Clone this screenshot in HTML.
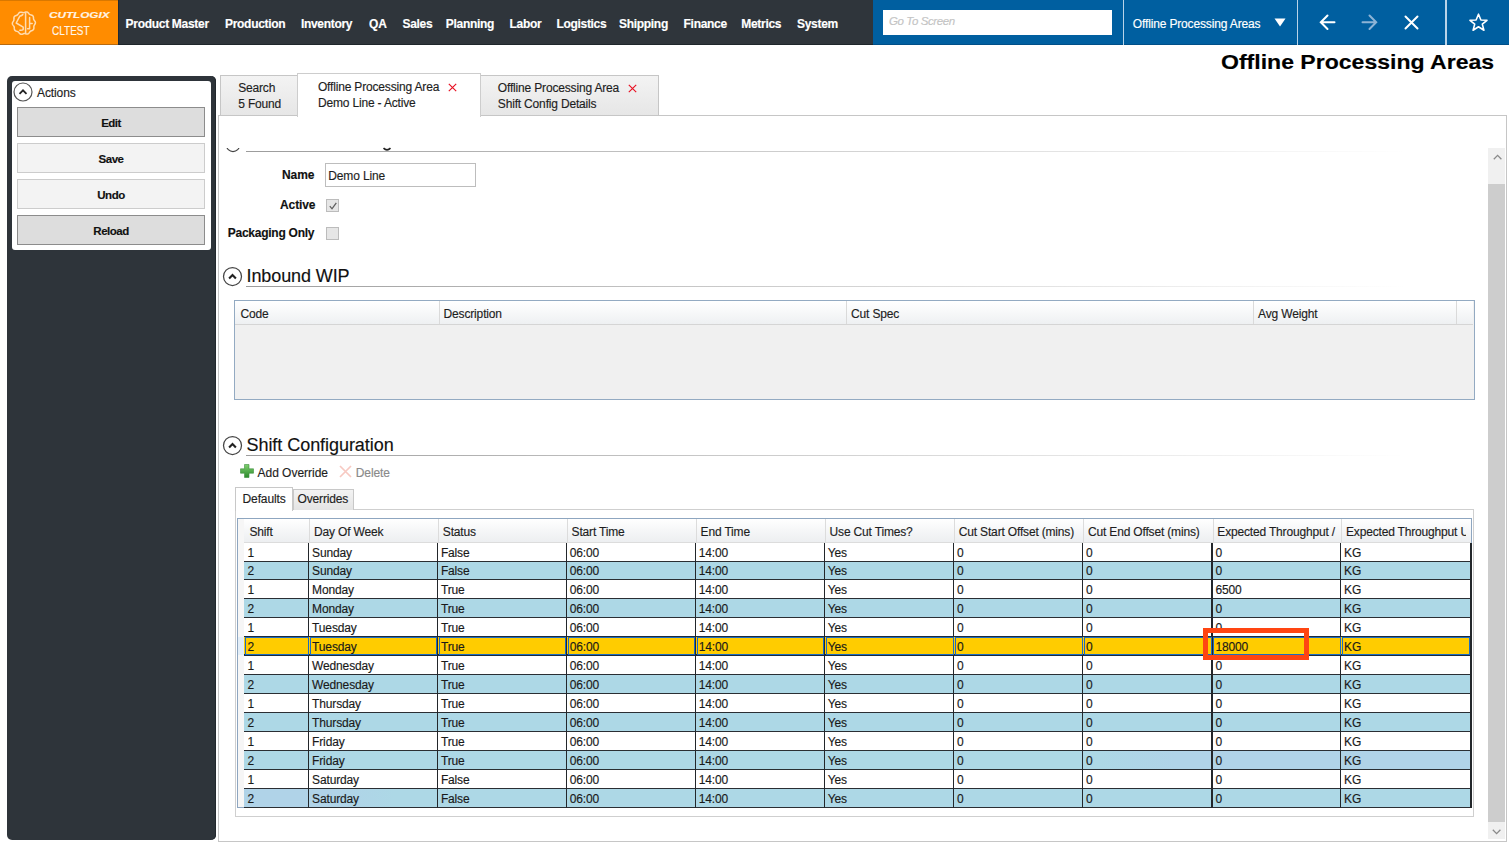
<!DOCTYPE html>
<html><head><meta charset="utf-8"><style>
html,body{margin:0;padding:0;}
body{width:1509px;height:845px;overflow:hidden;position:relative;background:#fff;font-family:"Liberation Sans", sans-serif;}
.t{position:absolute;white-space:nowrap;font-family:"Liberation Sans", sans-serif;-webkit-text-stroke:0.15px currentColor;}
</style></head><body>
<div style="position:absolute;left:0px;top:0px;width:118px;height:45px;background:#ff8c00;"></div>
<div style="position:absolute;left:0px;top:0px;width:118px;height:1px;background:#d97800;"></div>
<div style="position:absolute;left:118px;top:0px;width:755px;height:45px;background:#2f353b;"></div>
<div style="position:absolute;left:873px;top:0px;width:636px;height:45px;background:#005fa0;"></div>
<div style="position:absolute;left:873px;top:44px;width:636px;height:1px;background:#004f88;"></div>
<div style="position:absolute;left:0px;top:44px;width:118px;height:1px;background:#b86a10;"></div>
<div style="position:absolute;left:118px;top:44px;width:755px;height:1px;background:#1f262b;"></div>
<div style="position:absolute;left:118px;top:0px;width:1px;height:45px;background:#1c2a38;"></div>
<div style="position:absolute;left:883px;top:10px;width:229px;height:25px;background:#fff;"></div>
<div class="t" style="left:889px;top:16.27px;font-size:11.5px;line-height:11.5px;font-weight:normal;color:#c4c4c4;letter-spacing:-0.4px;font-style:italic;">Go To Screen</div>
<div style="position:absolute;left:1123px;top:0px;width:1px;height:45px;background:#b9d3e8;"></div>
<div style="position:absolute;left:1297px;top:0px;width:1px;height:45px;background:#b9d3e8;"></div>
<div style="position:absolute;left:1445px;top:0px;width:2px;height:45px;background:#b9d3e8;"></div>
<svg style="position:absolute;left:8px;top:6px" width="32" height="34" viewBox="0 0 32 34" fill="none" stroke="#ffdcb0" stroke-width="1.5" stroke-linecap="round" stroke-linejoin="round">
<path d="M27.41 17.10 L27.22 17.69 L26.91 18.26 L26.55 18.79 L26.23 19.30 L26.00 19.81 L25.88 20.34 L25.86 20.92 L25.89 21.55 L25.89 22.19 L25.81 22.82 L25.58 23.39 L25.21 23.86 L24.71 24.23 L24.12 24.51 L23.53 24.73 L22.97 24.95 L22.48 25.22 L22.07 25.59 L21.71 26.05 L21.37 26.57 L20.99 27.09 L20.55 27.55 L20.04 27.88 L19.46 28.04 L18.83 28.05 L18.20 27.93 L17.59 27.75 L17.00 27.60 L16.45 27.54 L15.90 27.59 L15.34 27.75 L14.76 27.97 L14.15 28.18 L13.52 28.29 L12.91 28.25 L12.34 28.04 L11.84 27.68 L11.40 27.21 L11.00 26.71 L10.62 26.25 L10.21 25.87 L9.73 25.59 L9.19 25.39 L8.58 25.22 L7.97 25.03 L7.40 24.75 L6.93 24.37 L6.59 23.86 L6.40 23.27 L6.31 22.63 L6.29 22.00 L6.25 21.40 L6.14 20.85 L5.92 20.34 L5.60 19.86 L5.21 19.37 L4.82 18.85 L4.52 18.30 L4.37 17.70 L4.39 17.10 L4.58 16.51 L4.89 15.94 L5.25 15.41 L5.57 14.90 L5.80 14.39 L5.92 13.86 L5.94 13.28 L5.91 12.65 L5.91 12.01 L5.99 11.38 L6.22 10.81 L6.59 10.34 L7.09 9.97 L7.68 9.69 L8.27 9.47 L8.83 9.25 L9.32 8.98 L9.73 8.61 L10.09 8.15 L10.43 7.63 L10.81 7.11 L11.25 6.65 L11.76 6.32 L12.34 6.16 L12.97 6.15 L13.60 6.27 L14.21 6.45 L14.80 6.60 L15.35 6.66 L15.90 6.61 L16.46 6.45 L17.04 6.23 L17.65 6.02 L18.28 5.91 L18.89 5.95 L19.46 6.16 L19.96 6.52 L20.40 6.99 L20.80 7.49 L21.18 7.95 L21.59 8.33 L22.07 8.61 L22.61 8.81 L23.22 8.98 L23.83 9.17 L24.40 9.45 L24.87 9.83 L25.21 10.34 L25.40 10.93 L25.49 11.57 L25.51 12.20 L25.55 12.80 L25.66 13.35 L25.88 13.86 L26.20 14.34 L26.59 14.83 L26.98 15.35 L27.28 15.90 L27.43 16.50 L27.41 17.10 Z"/>
<path d="M17.6 7 V27"/>
<path d="M11.8 10.2 Q14 9.4 14.8 8.6 M11.8 10.2 L8.2 17 L15.2 21.2 V23.6 Q14 24.4 11.8 24.2"/>
<path d="M21.6 11.6 V22.8 H19.6 M21.6 17.6 H24.2"/>
</svg>
<div class="t" style="left:49px;top:10.78px;font-size:9px;line-height:9px;font-weight:bold;color:#fff3e3;letter-spacing:0px;font-style:italic;transform:scaleX(1.3);transform-origin:0 0;">CUTLOGIX</div>
<div class="t" style="left:52.3px;top:24.72px;font-size:12.5px;line-height:12.5px;font-weight:normal;color:#fff6ea;letter-spacing:0px;transform:scaleX(0.8);transform-origin:0 0;">CLTEST</div>
<div class="t" style="left:125.6px;top:17.74px;font-size:12px;line-height:12px;font-weight:bold;color:#ffffff;letter-spacing:-0.3px;">Product Master</div>
<div class="t" style="left:225px;top:17.74px;font-size:12px;line-height:12px;font-weight:bold;color:#ffffff;letter-spacing:-0.3px;">Production</div>
<div class="t" style="left:300.9px;top:17.74px;font-size:12px;line-height:12px;font-weight:bold;color:#ffffff;letter-spacing:-0.3px;">Inventory</div>
<div class="t" style="left:369.1px;top:17.74px;font-size:12px;line-height:12px;font-weight:bold;color:#ffffff;letter-spacing:-0.3px;">QA</div>
<div class="t" style="left:402.5px;top:17.74px;font-size:12px;line-height:12px;font-weight:bold;color:#ffffff;letter-spacing:-0.3px;">Sales</div>
<div class="t" style="left:445.8px;top:17.74px;font-size:12px;line-height:12px;font-weight:bold;color:#ffffff;letter-spacing:-0.3px;">Planning</div>
<div class="t" style="left:509.5px;top:17.74px;font-size:12px;line-height:12px;font-weight:bold;color:#ffffff;letter-spacing:-0.3px;">Labor</div>
<div class="t" style="left:556.4px;top:17.74px;font-size:12px;line-height:12px;font-weight:bold;color:#ffffff;letter-spacing:-0.3px;">Logistics</div>
<div class="t" style="left:619px;top:17.74px;font-size:12px;line-height:12px;font-weight:bold;color:#ffffff;letter-spacing:-0.3px;">Shipping</div>
<div class="t" style="left:683.6px;top:17.74px;font-size:12px;line-height:12px;font-weight:bold;color:#ffffff;letter-spacing:-0.3px;">Finance</div>
<div class="t" style="left:741.3px;top:17.74px;font-size:12px;line-height:12px;font-weight:bold;color:#ffffff;letter-spacing:-0.3px;">Metrics</div>
<div class="t" style="left:797px;top:17.74px;font-size:12px;line-height:12px;font-weight:bold;color:#ffffff;letter-spacing:-0.3px;">System</div>
<div class="t" style="left:1132.8px;top:17.84px;font-size:12px;line-height:12px;font-weight:normal;color:#ffffff;letter-spacing:-0.15px;">Offline Processing Areas</div>
<svg style="position:absolute;left:1274px;top:18px" width="12" height="9"><path d="M0.5 0.5 H11.5 L6 8.5 Z" fill="#fff"/></svg>
<svg style="position:absolute;left:1318px;top:13px" width="20" height="19" fill="none" stroke="#fff" stroke-width="2" stroke-linecap="round"><path d="M16.5 9.2 H3 M9.5 2.5 L2.8 9.2 L9.5 16"/></svg>
<svg style="position:absolute;left:1360px;top:13px" width="20" height="19" fill="none" stroke="#8db4d6" stroke-width="2" stroke-linecap="round"><path d="M2.5 9.2 H16 M9.5 2.5 L16.2 9.2 L9.5 16"/></svg>
<svg style="position:absolute;left:1403px;top:14px" width="17" height="17" fill="none" stroke="#fff" stroke-width="2" stroke-linecap="round"><path d="M2.5 2.5 L14.5 14.5 M14.5 2.5 L2.5 14.5"/></svg>
<svg style="position:absolute;left:1468px;top:12px" width="21" height="21" fill="none" stroke="#fff" stroke-width="1.6" stroke-linejoin="round"><path d="M10.5 2.2 L12.9 8 L19 8.3 L14.3 12.1 L15.9 18.2 L10.5 14.8 L5.1 18.2 L6.7 12.1 L2 8.3 L8.1 8 Z"/></svg>
<div class="t" style="left:1221px;top:52.27px;font-size:20px;line-height:20px;font-weight:bold;color:#000;letter-spacing:0px;transform:scaleX(1.152);transform-origin:0 0;">Offline Processing Areas</div>
<div style="position:absolute;left:7px;top:76px;width:209px;height:764px;background:#2e343a;border-radius:5px;box-shadow:inset -1px 0 0 #22282d;"></div>
<div style="position:absolute;left:12px;top:81px;width:199px;height:169px;background:#fff;border-radius:3px;"></div>
<svg style="position:absolute;left:13px;top:82px" width="20" height="20" fill="none"><circle cx="10" cy="10" r="9" stroke="#555" stroke-width="1.2"/><path d="M6.5 11.8 L10 8.3 L13.5 11.8" stroke="#222" stroke-width="1.8"/></svg>
<div class="t" style="left:37px;top:87.44px;font-size:12px;line-height:12px;font-weight:normal;color:#1e1e1e;letter-spacing:-0.1px;">Actions</div>
<div style="position:absolute;left:17px;top:107px;width:186px;height:28px;background:#dddddd;border:1px solid #8c8c8c;"></div>
<div class="t" style="left:-39px;width:300px;text-align:center;top:117.57px;font-size:11.5px;line-height:11.5px;font-weight:bold;color:#111;letter-spacing:-0.5px;">Edit</div>
<div style="position:absolute;left:17px;top:143px;width:186px;height:28px;background:#f3f3f3;border:1px solid #cccccc;"></div>
<div class="t" style="left:-39px;width:300px;text-align:center;top:153.57px;font-size:11.5px;line-height:11.5px;font-weight:bold;color:#111;letter-spacing:-0.5px;">Save</div>
<div style="position:absolute;left:17px;top:179px;width:186px;height:28px;background:#f3f3f3;border:1px solid #cccccc;"></div>
<div class="t" style="left:-39px;width:300px;text-align:center;top:189.57px;font-size:11.5px;line-height:11.5px;font-weight:bold;color:#111;letter-spacing:-0.5px;">Undo</div>
<div style="position:absolute;left:17px;top:215px;width:186px;height:28px;background:#dddddd;border:1px solid #8c8c8c;"></div>
<div class="t" style="left:-39px;width:300px;text-align:center;top:225.57px;font-size:11.5px;line-height:11.5px;font-weight:bold;color:#111;letter-spacing:-0.5px;">Reload</div>
<div style="position:absolute;left:220px;top:75px;width:77px;height:40px;background:linear-gradient(#f3f3f3,#e6e6e6);border:1px solid #c6c6c6;border-bottom:none;"></div>
<div style="position:absolute;left:480px;top:75px;width:177px;height:40px;background:linear-gradient(#f3f3f3,#e6e6e6);border:1px solid #c6c6c6;border-bottom:none;"></div>
<div style="position:absolute;left:218px;top:115px;width:1287px;height:725px;background:#fff;border:1px solid #c6c6c6;"></div>
<div style="position:absolute;left:297px;top:73px;width:182px;height:43px;background:#fff;border:1px solid #cdcdcd;border-bottom:none;"></div>
<div class="t" style="left:238.3px;top:82.04px;font-size:12px;line-height:12px;font-weight:normal;color:#1e1e1e;letter-spacing:-0.2px;">Search</div>
<div class="t" style="left:238.3px;top:98.14px;font-size:12px;line-height:12px;font-weight:normal;color:#1e1e1e;letter-spacing:-0.2px;">5 Found</div>
<div class="t" style="left:317.9px;top:81.14px;font-size:12px;line-height:12px;font-weight:normal;color:#1e1e1e;letter-spacing:-0.17px;">Offline Processing Area</div>
<div class="t" style="left:317.9px;top:96.84px;font-size:12px;line-height:12px;font-weight:normal;color:#1e1e1e;letter-spacing:-0.17px;">Demo Line - Active</div>
<div class="t" style="left:497.8px;top:82.14px;font-size:12px;line-height:12px;font-weight:normal;color:#1e1e1e;letter-spacing:-0.17px;">Offline Processing Area</div>
<div class="t" style="left:497.8px;top:97.64px;font-size:12px;line-height:12px;font-weight:normal;color:#1e1e1e;letter-spacing:-0.17px;">Shift Config Details</div>
<svg style="position:absolute;left:448px;top:83px" width="9" height="9" fill="none" stroke="#e81123" stroke-width="1.15"><path d="M0.8 0.8 L8.2 8.2 M8.2 0.8 L0.8 8.2"/></svg>
<svg style="position:absolute;left:627.8px;top:84px" width="9" height="9" fill="none" stroke="#e81123" stroke-width="1.15"><path d="M0.8 0.8 L8.2 8.2 M8.2 0.8 L0.8 8.2"/></svg>
<div style="position:absolute;left:1488px;top:148px;width:16.5px;height:691px;background:#f0f0f0;"></div>
<div style="position:absolute;left:1488px;top:184px;width:16.5px;height:638px;background:#cdcdcd;"></div>
<svg style="position:absolute;left:1491.5px;top:153px" width="11" height="8" fill="none" stroke="#8a8a8a" stroke-width="1.3"><path d="M1.8 6.2 L5.6 2.4 L9.4 6.2"/></svg>
<svg style="position:absolute;left:1491px;top:828px" width="11" height="8" fill="none" stroke="#8a8a8a" stroke-width="1.3"><path d="M1.8 1.8 L5.6 5.6 L9.4 1.8"/></svg>
<div style="position:absolute;left:219px;top:148px;width:1268px;height:8px;overflow:hidden;"><svg style="position:absolute;left:6px;top:-11px" width="16" height="16" fill="none"><circle cx="8" cy="8" r="6.6" stroke="#444" stroke-width="1.2"/></svg></div>
<div style="position:absolute;left:219px;top:140px;width:1268px;height:8px;background:#fff;"></div>
<div style="position:absolute;left:246px;top:150.5px;width:1160px;height:1.5px;background:linear-gradient(90deg,#9c9c9c,#c8c8c8 40%,#e8e8e8 75%,rgba(255,255,255,0) 100%);"></div>
<svg style="position:absolute;left:382px;top:146px" width="10" height="6" fill="none"><path d="M1.5 2.2 Q5 5.5 8.5 2.2" stroke="#222" stroke-width="1.6"/></svg>
<div class="t" style="left:282px;top:169.44px;font-size:12px;line-height:12px;font-weight:bold;color:#111;letter-spacing:-0.1px;">Name</div>
<div style="position:absolute;left:325px;top:163px;width:149px;height:22px;background:#fff;border:1px solid #bdbdbd;"></div>
<div class="t" style="left:328.3px;top:170.04px;font-size:12px;line-height:12px;font-weight:normal;color:#1e1e1e;letter-spacing:-0.15px;">Demo Line</div>
<div class="t" style="left:280px;top:199.24px;font-size:12px;line-height:12px;font-weight:bold;color:#111;letter-spacing:-0.1px;">Active</div>
<div style="position:absolute;left:326px;top:199px;width:11px;height:11px;background:#e6e6e6;border:1px solid #bcbcbc;"></div>
<svg style="position:absolute;left:326.5px;top:199.5px" width="12" height="12" fill="none"><path d="M2.8 6.2 L5 8.8 L9.3 2.8" stroke="#606060" stroke-width="1.3"/></svg>
<div class="t" style="left:227.8px;top:227.24px;font-size:12px;line-height:12px;font-weight:bold;color:#111;letter-spacing:-0.26px;">Packaging Only</div>
<div style="position:absolute;left:326px;top:227px;width:11px;height:11px;background:#e6e6e6;border:1px solid #bcbcbc;"></div>
<svg style="position:absolute;left:222.0px;top:266.0px" width="21" height="21" fill="none"><circle cx="10.5" cy="10.5" r="9.0" stroke="#444" stroke-width="1.25"/><path d="M7.1 12.4 L10.5 9.0 L13.9 12.4" stroke="#222" stroke-width="2.1"/></svg>
<div class="t" style="left:246.5px;top:266.56px;font-size:18px;line-height:18px;font-weight:normal;color:#111;letter-spacing:-0.1px;">Inbound WIP</div>
<div style="position:absolute;left:246px;top:286px;width:1160px;height:1px;background:linear-gradient(90deg,#9c9c9c,#c8c8c8 40%,#e8e8e8 75%,rgba(255,255,255,0) 100%);"></div>
<div style="position:absolute;left:234px;top:300px;width:1239px;height:98px;background:#f0f0f0;border:1px solid #93aac2;"></div>
<div style="position:absolute;left:235px;top:301px;width:1238px;height:23px;background:linear-gradient(#ffffff,#f7f8f9 50%,#eef0f2);border-bottom:1px solid #d5d5d5;"></div>
<div style="position:absolute;left:438.5px;top:301px;width:1px;height:23px;background:#dadada;"></div>
<div style="position:absolute;left:845.5px;top:301px;width:1px;height:23px;background:#dadada;"></div>
<div style="position:absolute;left:1252.5px;top:301px;width:1px;height:23px;background:#dadada;"></div>
<div style="position:absolute;left:1455.5px;top:301px;width:1px;height:23px;background:#dadada;"></div>
<div class="t" style="left:240.4px;top:307.84px;font-size:12px;line-height:12px;font-weight:normal;color:#1e1e1e;letter-spacing:-0.15px;">Code</div>
<div class="t" style="left:443.5px;top:307.84px;font-size:12px;line-height:12px;font-weight:normal;color:#1e1e1e;letter-spacing:-0.15px;">Description</div>
<div class="t" style="left:851px;top:307.84px;font-size:12px;line-height:12px;font-weight:normal;color:#1e1e1e;letter-spacing:-0.15px;">Cut Spec</div>
<div class="t" style="left:1258px;top:307.84px;font-size:12px;line-height:12px;font-weight:normal;color:#1e1e1e;letter-spacing:-0.15px;">Avg Weight</div>
<svg style="position:absolute;left:222.0px;top:434.8px" width="21" height="21" fill="none"><circle cx="10.5" cy="10.5" r="9.0" stroke="#444" stroke-width="1.25"/><path d="M7.1 12.4 L10.5 9.0 L13.9 12.4" stroke="#222" stroke-width="2.1"/></svg>
<div class="t" style="left:246.5px;top:435.96px;font-size:18px;line-height:18px;font-weight:normal;color:#111;letter-spacing:-0.05px;">Shift Configuration</div>
<div style="position:absolute;left:246px;top:455px;width:1160px;height:1px;background:linear-gradient(90deg,#9c9c9c,#c8c8c8 40%,#e8e8e8 75%,rgba(255,255,255,0) 100%);"></div>
<svg style="position:absolute;left:240px;top:464px" width="14" height="14"><defs><linearGradient id="g1" x1="0" y1="0" x2="0" y2="1"><stop offset="0" stop-color="#7fcf6f"/><stop offset="1" stop-color="#2b8a2b"/></linearGradient></defs><path d="M4.5 0.5 H9 V4.8 H13.5 V9.2 H9 V13.5 H4.5 V9.2 H0.5 V4.8 H4.5 Z" fill="url(#g1)" stroke="#3d8f3d" stroke-width="0.6"/></svg>
<div class="t" style="left:257.5px;top:466.54px;font-size:12px;line-height:12px;font-weight:normal;color:#1e1e1e;letter-spacing:-0.02px;">Add Override</div>
<svg style="position:absolute;left:338.5px;top:465px" width="13" height="13" fill="none" stroke="#f7c9c2" stroke-width="1.7"><path d="M1 1 L12 12 M12 1 L1 12"/></svg>
<div class="t" style="left:355.8px;top:466.54px;font-size:12px;line-height:12px;font-weight:normal;color:#8a8a8a;letter-spacing:-0.1px;">Delete</div>
<div style="position:absolute;left:235px;top:509px;width:1237px;height:306px;background:#fff;border:1px solid #cfcfcf;"></div>
<div style="position:absolute;left:292.5px;top:489px;width:59px;height:20px;background:linear-gradient(#f3f3f3,#e4e4e4);border:1px solid #c8c8c8;border-bottom:none;"></div>
<div style="position:absolute;left:234.5px;top:487px;width:56px;height:23px;background:#fff;border:1px solid #c8c8c8;border-bottom:none;"></div>
<div class="t" style="left:242.5px;top:492.54px;font-size:12px;line-height:12px;font-weight:normal;color:#1e1e1e;letter-spacing:-0.1px;">Defaults</div>
<div class="t" style="left:297.5px;top:493.34px;font-size:12px;line-height:12px;font-weight:normal;color:#1e1e1e;letter-spacing:-0.15px;">Overrides</div>
<div style="position:absolute;left:237px;top:518px;width:1233px;height:288px;background:#fff;border:1px solid #8ea6c0;"></div>
<div style="position:absolute;left:238px;top:519px;width:1233px;height:24px;background:linear-gradient(#ffffff,#f6f7f8 45%,#eceef0);"></div>
<div style="position:absolute;left:238px;top:542px;width:1233px;height:1px;background:#dcdcdc;"></div>
<div style="position:absolute;left:238px;top:519px;width:6px;height:288px;background:#f6f6f6;"></div>
<div style="position:absolute;left:238px;top:637px;width:6px;height:18px;background:#e3eef8;"></div>
<div style="position:absolute;left:309.2px;top:519px;width:1px;height:23px;background:#dcdcdc;"></div>
<div style="position:absolute;left:438px;top:519px;width:1px;height:23px;background:#dcdcdc;"></div>
<div style="position:absolute;left:566.8px;top:519px;width:1px;height:23px;background:#dcdcdc;"></div>
<div style="position:absolute;left:695.8px;top:519px;width:1px;height:23px;background:#dcdcdc;"></div>
<div style="position:absolute;left:824.8px;top:519px;width:1px;height:23px;background:#dcdcdc;"></div>
<div style="position:absolute;left:954px;top:519px;width:1px;height:23px;background:#dcdcdc;"></div>
<div style="position:absolute;left:1083.2px;top:519px;width:1px;height:23px;background:#dcdcdc;"></div>
<div style="position:absolute;left:1212.5px;top:519px;width:1px;height:23px;background:#dcdcdc;"></div>
<div style="position:absolute;left:1341.2px;top:519px;width:1px;height:23px;background:#dcdcdc;"></div>
<div style="position:absolute;left:244.6px;top:519px;width:60.599999999999994px;height:23px;overflow:hidden;">
<div class="t" style="left:4.8px;top:6.94px;font-size:12px;line-height:12px;color:#1e1e1e;letter-spacing:-0.17px;">Shift</div></div>
<div style="position:absolute;left:309.2px;top:519px;width:124.80000000000001px;height:23px;overflow:hidden;">
<div class="t" style="left:4.8px;top:6.94px;font-size:12px;line-height:12px;color:#1e1e1e;letter-spacing:-0.17px;">Day Of Week</div></div>
<div style="position:absolute;left:438px;top:519px;width:124.79999999999995px;height:23px;overflow:hidden;">
<div class="t" style="left:4.8px;top:6.94px;font-size:12px;line-height:12px;color:#1e1e1e;letter-spacing:-0.17px;">Status</div></div>
<div style="position:absolute;left:566.8px;top:519px;width:125.0px;height:23px;overflow:hidden;">
<div class="t" style="left:4.8px;top:6.94px;font-size:12px;line-height:12px;color:#1e1e1e;letter-spacing:-0.17px;">Start Time</div></div>
<div style="position:absolute;left:695.8px;top:519px;width:125.0px;height:23px;overflow:hidden;">
<div class="t" style="left:4.8px;top:6.94px;font-size:12px;line-height:12px;color:#1e1e1e;letter-spacing:-0.17px;">End Time</div></div>
<div style="position:absolute;left:824.8px;top:519px;width:125.20000000000005px;height:23px;overflow:hidden;">
<div class="t" style="left:4.8px;top:6.94px;font-size:12px;line-height:12px;color:#1e1e1e;letter-spacing:-0.17px;">Use Cut Times?</div></div>
<div style="position:absolute;left:954px;top:519px;width:125.20000000000005px;height:23px;overflow:hidden;">
<div class="t" style="left:4.8px;top:6.94px;font-size:12px;line-height:12px;color:#1e1e1e;letter-spacing:-0.17px;">Cut Start Offset (mins)</div></div>
<div style="position:absolute;left:1083.2px;top:519px;width:125.29999999999995px;height:23px;overflow:hidden;">
<div class="t" style="left:4.8px;top:6.94px;font-size:12px;line-height:12px;color:#1e1e1e;letter-spacing:-0.17px;">Cut End Offset (mins)</div></div>
<div style="position:absolute;left:1212.5px;top:519px;width:124.70000000000005px;height:23px;overflow:hidden;">
<div class="t" style="left:4.8px;top:6.94px;font-size:12px;line-height:12px;color:#1e1e1e;letter-spacing:-0.17px;">Expected Throughput / Shift</div></div>
<div style="position:absolute;left:1341.2px;top:519px;width:125.29999999999995px;height:23px;overflow:hidden;">
<div class="t" style="left:4.8px;top:6.94px;font-size:12px;line-height:12px;color:#1e1e1e;letter-spacing:-0.17px;">Expected Throughput Unit</div></div>
<div style="position:absolute;left:244px;top:543px;width:1227px;height:18px;background:#ffffff;"></div>
<div class="t" style="left:247.4px;top:547.34px;font-size:12px;line-height:12px;font-weight:normal;color:#1a1a1a;letter-spacing:-0.15px;">1</div>
<div class="t" style="left:312.09999999999997px;top:547.34px;font-size:12px;line-height:12px;font-weight:normal;color:#1a1a1a;letter-spacing:-0.15px;">Sunday</div>
<div class="t" style="left:440.9px;top:547.34px;font-size:12px;line-height:12px;font-weight:normal;color:#1a1a1a;letter-spacing:-0.15px;">False</div>
<div class="t" style="left:569.6999999999999px;top:547.34px;font-size:12px;line-height:12px;font-weight:normal;color:#1a1a1a;letter-spacing:-0.15px;">06:00</div>
<div class="t" style="left:698.6999999999999px;top:547.34px;font-size:12px;line-height:12px;font-weight:normal;color:#1a1a1a;letter-spacing:-0.15px;">14:00</div>
<div class="t" style="left:827.6999999999999px;top:547.34px;font-size:12px;line-height:12px;font-weight:normal;color:#1a1a1a;letter-spacing:-0.15px;">Yes</div>
<div class="t" style="left:956.9px;top:547.34px;font-size:12px;line-height:12px;font-weight:normal;color:#1a1a1a;letter-spacing:-0.15px;">0</div>
<div class="t" style="left:1086.1000000000001px;top:547.34px;font-size:12px;line-height:12px;font-weight:normal;color:#1a1a1a;letter-spacing:-0.15px;">0</div>
<div class="t" style="left:1215.4px;top:547.34px;font-size:12px;line-height:12px;font-weight:normal;color:#1a1a1a;letter-spacing:-0.15px;">0</div>
<div class="t" style="left:1344.1000000000001px;top:547.34px;font-size:12px;line-height:12px;font-weight:normal;color:#1a1a1a;letter-spacing:-0.15px;">KG</div>
<div style="position:absolute;left:244px;top:561px;width:1227px;height:18px;background:#add8e6;"></div>
<div class="t" style="left:247.4px;top:565.34px;font-size:12px;line-height:12px;font-weight:normal;color:#1a1a1a;letter-spacing:-0.15px;">2</div>
<div class="t" style="left:312.09999999999997px;top:565.34px;font-size:12px;line-height:12px;font-weight:normal;color:#1a1a1a;letter-spacing:-0.15px;">Sunday</div>
<div class="t" style="left:440.9px;top:565.34px;font-size:12px;line-height:12px;font-weight:normal;color:#1a1a1a;letter-spacing:-0.15px;">False</div>
<div class="t" style="left:569.6999999999999px;top:565.34px;font-size:12px;line-height:12px;font-weight:normal;color:#1a1a1a;letter-spacing:-0.15px;">06:00</div>
<div class="t" style="left:698.6999999999999px;top:565.34px;font-size:12px;line-height:12px;font-weight:normal;color:#1a1a1a;letter-spacing:-0.15px;">14:00</div>
<div class="t" style="left:827.6999999999999px;top:565.34px;font-size:12px;line-height:12px;font-weight:normal;color:#1a1a1a;letter-spacing:-0.15px;">Yes</div>
<div class="t" style="left:956.9px;top:565.34px;font-size:12px;line-height:12px;font-weight:normal;color:#1a1a1a;letter-spacing:-0.15px;">0</div>
<div class="t" style="left:1086.1000000000001px;top:565.34px;font-size:12px;line-height:12px;font-weight:normal;color:#1a1a1a;letter-spacing:-0.15px;">0</div>
<div class="t" style="left:1215.4px;top:565.34px;font-size:12px;line-height:12px;font-weight:normal;color:#1a1a1a;letter-spacing:-0.15px;">0</div>
<div class="t" style="left:1344.1000000000001px;top:565.34px;font-size:12px;line-height:12px;font-weight:normal;color:#1a1a1a;letter-spacing:-0.15px;">KG</div>
<div style="position:absolute;left:244px;top:579px;width:1227px;height:19px;background:#ffffff;"></div>
<div class="t" style="left:247.4px;top:584.34px;font-size:12px;line-height:12px;font-weight:normal;color:#1a1a1a;letter-spacing:-0.15px;">1</div>
<div class="t" style="left:312.09999999999997px;top:584.34px;font-size:12px;line-height:12px;font-weight:normal;color:#1a1a1a;letter-spacing:-0.15px;">Monday</div>
<div class="t" style="left:440.9px;top:584.34px;font-size:12px;line-height:12px;font-weight:normal;color:#1a1a1a;letter-spacing:-0.15px;">True</div>
<div class="t" style="left:569.6999999999999px;top:584.34px;font-size:12px;line-height:12px;font-weight:normal;color:#1a1a1a;letter-spacing:-0.15px;">06:00</div>
<div class="t" style="left:698.6999999999999px;top:584.34px;font-size:12px;line-height:12px;font-weight:normal;color:#1a1a1a;letter-spacing:-0.15px;">14:00</div>
<div class="t" style="left:827.6999999999999px;top:584.34px;font-size:12px;line-height:12px;font-weight:normal;color:#1a1a1a;letter-spacing:-0.15px;">Yes</div>
<div class="t" style="left:956.9px;top:584.34px;font-size:12px;line-height:12px;font-weight:normal;color:#1a1a1a;letter-spacing:-0.15px;">0</div>
<div class="t" style="left:1086.1000000000001px;top:584.34px;font-size:12px;line-height:12px;font-weight:normal;color:#1a1a1a;letter-spacing:-0.15px;">0</div>
<div class="t" style="left:1215.4px;top:584.34px;font-size:12px;line-height:12px;font-weight:normal;color:#1a1a1a;letter-spacing:-0.15px;">6500</div>
<div class="t" style="left:1344.1000000000001px;top:584.34px;font-size:12px;line-height:12px;font-weight:normal;color:#1a1a1a;letter-spacing:-0.15px;">KG</div>
<div style="position:absolute;left:244px;top:598px;width:1227px;height:19px;background:#add8e6;"></div>
<div class="t" style="left:247.4px;top:603.34px;font-size:12px;line-height:12px;font-weight:normal;color:#1a1a1a;letter-spacing:-0.15px;">2</div>
<div class="t" style="left:312.09999999999997px;top:603.34px;font-size:12px;line-height:12px;font-weight:normal;color:#1a1a1a;letter-spacing:-0.15px;">Monday</div>
<div class="t" style="left:440.9px;top:603.34px;font-size:12px;line-height:12px;font-weight:normal;color:#1a1a1a;letter-spacing:-0.15px;">True</div>
<div class="t" style="left:569.6999999999999px;top:603.34px;font-size:12px;line-height:12px;font-weight:normal;color:#1a1a1a;letter-spacing:-0.15px;">06:00</div>
<div class="t" style="left:698.6999999999999px;top:603.34px;font-size:12px;line-height:12px;font-weight:normal;color:#1a1a1a;letter-spacing:-0.15px;">14:00</div>
<div class="t" style="left:827.6999999999999px;top:603.34px;font-size:12px;line-height:12px;font-weight:normal;color:#1a1a1a;letter-spacing:-0.15px;">Yes</div>
<div class="t" style="left:956.9px;top:603.34px;font-size:12px;line-height:12px;font-weight:normal;color:#1a1a1a;letter-spacing:-0.15px;">0</div>
<div class="t" style="left:1086.1000000000001px;top:603.34px;font-size:12px;line-height:12px;font-weight:normal;color:#1a1a1a;letter-spacing:-0.15px;">0</div>
<div class="t" style="left:1215.4px;top:603.34px;font-size:12px;line-height:12px;font-weight:normal;color:#1a1a1a;letter-spacing:-0.15px;">0</div>
<div class="t" style="left:1344.1000000000001px;top:603.34px;font-size:12px;line-height:12px;font-weight:normal;color:#1a1a1a;letter-spacing:-0.15px;">KG</div>
<div style="position:absolute;left:244px;top:617px;width:1227px;height:19px;background:#ffffff;"></div>
<div class="t" style="left:247.4px;top:622.34px;font-size:12px;line-height:12px;font-weight:normal;color:#1a1a1a;letter-spacing:-0.15px;">1</div>
<div class="t" style="left:312.09999999999997px;top:622.34px;font-size:12px;line-height:12px;font-weight:normal;color:#1a1a1a;letter-spacing:-0.15px;">Tuesday</div>
<div class="t" style="left:440.9px;top:622.34px;font-size:12px;line-height:12px;font-weight:normal;color:#1a1a1a;letter-spacing:-0.15px;">True</div>
<div class="t" style="left:569.6999999999999px;top:622.34px;font-size:12px;line-height:12px;font-weight:normal;color:#1a1a1a;letter-spacing:-0.15px;">06:00</div>
<div class="t" style="left:698.6999999999999px;top:622.34px;font-size:12px;line-height:12px;font-weight:normal;color:#1a1a1a;letter-spacing:-0.15px;">14:00</div>
<div class="t" style="left:827.6999999999999px;top:622.34px;font-size:12px;line-height:12px;font-weight:normal;color:#1a1a1a;letter-spacing:-0.15px;">Yes</div>
<div class="t" style="left:956.9px;top:622.34px;font-size:12px;line-height:12px;font-weight:normal;color:#1a1a1a;letter-spacing:-0.15px;">0</div>
<div class="t" style="left:1086.1000000000001px;top:622.34px;font-size:12px;line-height:12px;font-weight:normal;color:#1a1a1a;letter-spacing:-0.15px;">0</div>
<div class="t" style="left:1215.4px;top:622.34px;font-size:12px;line-height:12px;font-weight:normal;color:#1a1a1a;letter-spacing:-0.15px;">0</div>
<div class="t" style="left:1344.1000000000001px;top:622.34px;font-size:12px;line-height:12px;font-weight:normal;color:#1a1a1a;letter-spacing:-0.15px;">KG</div>
<div style="position:absolute;left:244px;top:636px;width:1227px;height:18.600000000000023px;background:#ffcc00;"></div>
<div class="t" style="left:247.4px;top:640.94px;font-size:12px;line-height:12px;font-weight:normal;color:#1a1a1a;letter-spacing:-0.15px;">2</div>
<div class="t" style="left:312.09999999999997px;top:640.94px;font-size:12px;line-height:12px;font-weight:normal;color:#1a1a1a;letter-spacing:-0.15px;">Tuesday</div>
<div class="t" style="left:440.9px;top:640.94px;font-size:12px;line-height:12px;font-weight:normal;color:#1a1a1a;letter-spacing:-0.15px;">True</div>
<div class="t" style="left:569.6999999999999px;top:640.94px;font-size:12px;line-height:12px;font-weight:normal;color:#1a1a1a;letter-spacing:-0.15px;">06:00</div>
<div class="t" style="left:698.6999999999999px;top:640.94px;font-size:12px;line-height:12px;font-weight:normal;color:#1a1a1a;letter-spacing:-0.15px;">14:00</div>
<div class="t" style="left:827.6999999999999px;top:640.94px;font-size:12px;line-height:12px;font-weight:normal;color:#1a1a1a;letter-spacing:-0.15px;">Yes</div>
<div class="t" style="left:956.9px;top:640.94px;font-size:12px;line-height:12px;font-weight:normal;color:#1a1a1a;letter-spacing:-0.15px;">0</div>
<div class="t" style="left:1086.1000000000001px;top:640.94px;font-size:12px;line-height:12px;font-weight:normal;color:#1a1a1a;letter-spacing:-0.15px;">0</div>
<div class="t" style="left:1215.4px;top:640.94px;font-size:12px;line-height:12px;font-weight:normal;color:#1a1a1a;letter-spacing:-0.15px;">18000</div>
<div class="t" style="left:1344.1000000000001px;top:640.94px;font-size:12px;line-height:12px;font-weight:normal;color:#1a1a1a;letter-spacing:-0.15px;">KG</div>
<div style="position:absolute;left:244px;top:654.6px;width:1227px;height:19.399999999999977px;background:#ffffff;"></div>
<div class="t" style="left:247.4px;top:660.34px;font-size:12px;line-height:12px;font-weight:normal;color:#1a1a1a;letter-spacing:-0.15px;">1</div>
<div class="t" style="left:312.09999999999997px;top:660.34px;font-size:12px;line-height:12px;font-weight:normal;color:#1a1a1a;letter-spacing:-0.15px;">Wednesday</div>
<div class="t" style="left:440.9px;top:660.34px;font-size:12px;line-height:12px;font-weight:normal;color:#1a1a1a;letter-spacing:-0.15px;">True</div>
<div class="t" style="left:569.6999999999999px;top:660.34px;font-size:12px;line-height:12px;font-weight:normal;color:#1a1a1a;letter-spacing:-0.15px;">06:00</div>
<div class="t" style="left:698.6999999999999px;top:660.34px;font-size:12px;line-height:12px;font-weight:normal;color:#1a1a1a;letter-spacing:-0.15px;">14:00</div>
<div class="t" style="left:827.6999999999999px;top:660.34px;font-size:12px;line-height:12px;font-weight:normal;color:#1a1a1a;letter-spacing:-0.15px;">Yes</div>
<div class="t" style="left:956.9px;top:660.34px;font-size:12px;line-height:12px;font-weight:normal;color:#1a1a1a;letter-spacing:-0.15px;">0</div>
<div class="t" style="left:1086.1000000000001px;top:660.34px;font-size:12px;line-height:12px;font-weight:normal;color:#1a1a1a;letter-spacing:-0.15px;">0</div>
<div class="t" style="left:1215.4px;top:660.34px;font-size:12px;line-height:12px;font-weight:normal;color:#1a1a1a;letter-spacing:-0.15px;">0</div>
<div class="t" style="left:1344.1000000000001px;top:660.34px;font-size:12px;line-height:12px;font-weight:normal;color:#1a1a1a;letter-spacing:-0.15px;">KG</div>
<div style="position:absolute;left:244px;top:674px;width:1227px;height:19px;background:#add8e6;"></div>
<div class="t" style="left:247.4px;top:679.34px;font-size:12px;line-height:12px;font-weight:normal;color:#1a1a1a;letter-spacing:-0.15px;">2</div>
<div class="t" style="left:312.09999999999997px;top:679.34px;font-size:12px;line-height:12px;font-weight:normal;color:#1a1a1a;letter-spacing:-0.15px;">Wednesday</div>
<div class="t" style="left:440.9px;top:679.34px;font-size:12px;line-height:12px;font-weight:normal;color:#1a1a1a;letter-spacing:-0.15px;">True</div>
<div class="t" style="left:569.6999999999999px;top:679.34px;font-size:12px;line-height:12px;font-weight:normal;color:#1a1a1a;letter-spacing:-0.15px;">06:00</div>
<div class="t" style="left:698.6999999999999px;top:679.34px;font-size:12px;line-height:12px;font-weight:normal;color:#1a1a1a;letter-spacing:-0.15px;">14:00</div>
<div class="t" style="left:827.6999999999999px;top:679.34px;font-size:12px;line-height:12px;font-weight:normal;color:#1a1a1a;letter-spacing:-0.15px;">Yes</div>
<div class="t" style="left:956.9px;top:679.34px;font-size:12px;line-height:12px;font-weight:normal;color:#1a1a1a;letter-spacing:-0.15px;">0</div>
<div class="t" style="left:1086.1000000000001px;top:679.34px;font-size:12px;line-height:12px;font-weight:normal;color:#1a1a1a;letter-spacing:-0.15px;">0</div>
<div class="t" style="left:1215.4px;top:679.34px;font-size:12px;line-height:12px;font-weight:normal;color:#1a1a1a;letter-spacing:-0.15px;">0</div>
<div class="t" style="left:1344.1000000000001px;top:679.34px;font-size:12px;line-height:12px;font-weight:normal;color:#1a1a1a;letter-spacing:-0.15px;">KG</div>
<div style="position:absolute;left:244px;top:693px;width:1227px;height:19px;background:#ffffff;"></div>
<div class="t" style="left:247.4px;top:698.34px;font-size:12px;line-height:12px;font-weight:normal;color:#1a1a1a;letter-spacing:-0.15px;">1</div>
<div class="t" style="left:312.09999999999997px;top:698.34px;font-size:12px;line-height:12px;font-weight:normal;color:#1a1a1a;letter-spacing:-0.15px;">Thursday</div>
<div class="t" style="left:440.9px;top:698.34px;font-size:12px;line-height:12px;font-weight:normal;color:#1a1a1a;letter-spacing:-0.15px;">True</div>
<div class="t" style="left:569.6999999999999px;top:698.34px;font-size:12px;line-height:12px;font-weight:normal;color:#1a1a1a;letter-spacing:-0.15px;">06:00</div>
<div class="t" style="left:698.6999999999999px;top:698.34px;font-size:12px;line-height:12px;font-weight:normal;color:#1a1a1a;letter-spacing:-0.15px;">14:00</div>
<div class="t" style="left:827.6999999999999px;top:698.34px;font-size:12px;line-height:12px;font-weight:normal;color:#1a1a1a;letter-spacing:-0.15px;">Yes</div>
<div class="t" style="left:956.9px;top:698.34px;font-size:12px;line-height:12px;font-weight:normal;color:#1a1a1a;letter-spacing:-0.15px;">0</div>
<div class="t" style="left:1086.1000000000001px;top:698.34px;font-size:12px;line-height:12px;font-weight:normal;color:#1a1a1a;letter-spacing:-0.15px;">0</div>
<div class="t" style="left:1215.4px;top:698.34px;font-size:12px;line-height:12px;font-weight:normal;color:#1a1a1a;letter-spacing:-0.15px;">0</div>
<div class="t" style="left:1344.1000000000001px;top:698.34px;font-size:12px;line-height:12px;font-weight:normal;color:#1a1a1a;letter-spacing:-0.15px;">KG</div>
<div style="position:absolute;left:244px;top:712px;width:1227px;height:19px;background:#add8e6;"></div>
<div class="t" style="left:247.4px;top:717.34px;font-size:12px;line-height:12px;font-weight:normal;color:#1a1a1a;letter-spacing:-0.15px;">2</div>
<div class="t" style="left:312.09999999999997px;top:717.34px;font-size:12px;line-height:12px;font-weight:normal;color:#1a1a1a;letter-spacing:-0.15px;">Thursday</div>
<div class="t" style="left:440.9px;top:717.34px;font-size:12px;line-height:12px;font-weight:normal;color:#1a1a1a;letter-spacing:-0.15px;">True</div>
<div class="t" style="left:569.6999999999999px;top:717.34px;font-size:12px;line-height:12px;font-weight:normal;color:#1a1a1a;letter-spacing:-0.15px;">06:00</div>
<div class="t" style="left:698.6999999999999px;top:717.34px;font-size:12px;line-height:12px;font-weight:normal;color:#1a1a1a;letter-spacing:-0.15px;">14:00</div>
<div class="t" style="left:827.6999999999999px;top:717.34px;font-size:12px;line-height:12px;font-weight:normal;color:#1a1a1a;letter-spacing:-0.15px;">Yes</div>
<div class="t" style="left:956.9px;top:717.34px;font-size:12px;line-height:12px;font-weight:normal;color:#1a1a1a;letter-spacing:-0.15px;">0</div>
<div class="t" style="left:1086.1000000000001px;top:717.34px;font-size:12px;line-height:12px;font-weight:normal;color:#1a1a1a;letter-spacing:-0.15px;">0</div>
<div class="t" style="left:1215.4px;top:717.34px;font-size:12px;line-height:12px;font-weight:normal;color:#1a1a1a;letter-spacing:-0.15px;">0</div>
<div class="t" style="left:1344.1000000000001px;top:717.34px;font-size:12px;line-height:12px;font-weight:normal;color:#1a1a1a;letter-spacing:-0.15px;">KG</div>
<div style="position:absolute;left:244px;top:731px;width:1227px;height:19px;background:#ffffff;"></div>
<div class="t" style="left:247.4px;top:736.34px;font-size:12px;line-height:12px;font-weight:normal;color:#1a1a1a;letter-spacing:-0.15px;">1</div>
<div class="t" style="left:312.09999999999997px;top:736.34px;font-size:12px;line-height:12px;font-weight:normal;color:#1a1a1a;letter-spacing:-0.15px;">Friday</div>
<div class="t" style="left:440.9px;top:736.34px;font-size:12px;line-height:12px;font-weight:normal;color:#1a1a1a;letter-spacing:-0.15px;">True</div>
<div class="t" style="left:569.6999999999999px;top:736.34px;font-size:12px;line-height:12px;font-weight:normal;color:#1a1a1a;letter-spacing:-0.15px;">06:00</div>
<div class="t" style="left:698.6999999999999px;top:736.34px;font-size:12px;line-height:12px;font-weight:normal;color:#1a1a1a;letter-spacing:-0.15px;">14:00</div>
<div class="t" style="left:827.6999999999999px;top:736.34px;font-size:12px;line-height:12px;font-weight:normal;color:#1a1a1a;letter-spacing:-0.15px;">Yes</div>
<div class="t" style="left:956.9px;top:736.34px;font-size:12px;line-height:12px;font-weight:normal;color:#1a1a1a;letter-spacing:-0.15px;">0</div>
<div class="t" style="left:1086.1000000000001px;top:736.34px;font-size:12px;line-height:12px;font-weight:normal;color:#1a1a1a;letter-spacing:-0.15px;">0</div>
<div class="t" style="left:1215.4px;top:736.34px;font-size:12px;line-height:12px;font-weight:normal;color:#1a1a1a;letter-spacing:-0.15px;">0</div>
<div class="t" style="left:1344.1000000000001px;top:736.34px;font-size:12px;line-height:12px;font-weight:normal;color:#1a1a1a;letter-spacing:-0.15px;">KG</div>
<div style="position:absolute;left:244px;top:750px;width:1227px;height:19px;background:#add8e6;"></div>
<div style="position:absolute;left:1100px;top:750px;width:371px;height:19px;background:linear-gradient(90deg,#add8e6,#b0d3e8 20%);"></div>
<div class="t" style="left:247.4px;top:755.34px;font-size:12px;line-height:12px;font-weight:normal;color:#1a1a1a;letter-spacing:-0.15px;">2</div>
<div class="t" style="left:312.09999999999997px;top:755.34px;font-size:12px;line-height:12px;font-weight:normal;color:#1a1a1a;letter-spacing:-0.15px;">Friday</div>
<div class="t" style="left:440.9px;top:755.34px;font-size:12px;line-height:12px;font-weight:normal;color:#1a1a1a;letter-spacing:-0.15px;">True</div>
<div class="t" style="left:569.6999999999999px;top:755.34px;font-size:12px;line-height:12px;font-weight:normal;color:#1a1a1a;letter-spacing:-0.15px;">06:00</div>
<div class="t" style="left:698.6999999999999px;top:755.34px;font-size:12px;line-height:12px;font-weight:normal;color:#1a1a1a;letter-spacing:-0.15px;">14:00</div>
<div class="t" style="left:827.6999999999999px;top:755.34px;font-size:12px;line-height:12px;font-weight:normal;color:#1a1a1a;letter-spacing:-0.15px;">Yes</div>
<div class="t" style="left:956.9px;top:755.34px;font-size:12px;line-height:12px;font-weight:normal;color:#1a1a1a;letter-spacing:-0.15px;">0</div>
<div class="t" style="left:1086.1000000000001px;top:755.34px;font-size:12px;line-height:12px;font-weight:normal;color:#1a1a1a;letter-spacing:-0.15px;">0</div>
<div class="t" style="left:1215.4px;top:755.34px;font-size:12px;line-height:12px;font-weight:normal;color:#1a1a1a;letter-spacing:-0.15px;">0</div>
<div class="t" style="left:1344.1000000000001px;top:755.34px;font-size:12px;line-height:12px;font-weight:normal;color:#1a1a1a;letter-spacing:-0.15px;">KG</div>
<div style="position:absolute;left:244px;top:769px;width:1227px;height:19px;background:#ffffff;"></div>
<div class="t" style="left:247.4px;top:774.34px;font-size:12px;line-height:12px;font-weight:normal;color:#1a1a1a;letter-spacing:-0.15px;">1</div>
<div class="t" style="left:312.09999999999997px;top:774.34px;font-size:12px;line-height:12px;font-weight:normal;color:#1a1a1a;letter-spacing:-0.15px;">Saturday</div>
<div class="t" style="left:440.9px;top:774.34px;font-size:12px;line-height:12px;font-weight:normal;color:#1a1a1a;letter-spacing:-0.15px;">False</div>
<div class="t" style="left:569.6999999999999px;top:774.34px;font-size:12px;line-height:12px;font-weight:normal;color:#1a1a1a;letter-spacing:-0.15px;">06:00</div>
<div class="t" style="left:698.6999999999999px;top:774.34px;font-size:12px;line-height:12px;font-weight:normal;color:#1a1a1a;letter-spacing:-0.15px;">14:00</div>
<div class="t" style="left:827.6999999999999px;top:774.34px;font-size:12px;line-height:12px;font-weight:normal;color:#1a1a1a;letter-spacing:-0.15px;">Yes</div>
<div class="t" style="left:956.9px;top:774.34px;font-size:12px;line-height:12px;font-weight:normal;color:#1a1a1a;letter-spacing:-0.15px;">0</div>
<div class="t" style="left:1086.1000000000001px;top:774.34px;font-size:12px;line-height:12px;font-weight:normal;color:#1a1a1a;letter-spacing:-0.15px;">0</div>
<div class="t" style="left:1215.4px;top:774.34px;font-size:12px;line-height:12px;font-weight:normal;color:#1a1a1a;letter-spacing:-0.15px;">0</div>
<div class="t" style="left:1344.1000000000001px;top:774.34px;font-size:12px;line-height:12px;font-weight:normal;color:#1a1a1a;letter-spacing:-0.15px;">KG</div>
<div style="position:absolute;left:244px;top:788px;width:1227px;height:19px;background:#add8e6;"></div>
<div style="position:absolute;left:244px;top:788px;width:150px;height:19px;background:linear-gradient(90deg,#b0d3e8 60%,#add8e6);"></div>
<div class="t" style="left:247.4px;top:793.34px;font-size:12px;line-height:12px;font-weight:normal;color:#1a1a1a;letter-spacing:-0.15px;">2</div>
<div class="t" style="left:312.09999999999997px;top:793.34px;font-size:12px;line-height:12px;font-weight:normal;color:#1a1a1a;letter-spacing:-0.15px;">Saturday</div>
<div class="t" style="left:440.9px;top:793.34px;font-size:12px;line-height:12px;font-weight:normal;color:#1a1a1a;letter-spacing:-0.15px;">False</div>
<div class="t" style="left:569.6999999999999px;top:793.34px;font-size:12px;line-height:12px;font-weight:normal;color:#1a1a1a;letter-spacing:-0.15px;">06:00</div>
<div class="t" style="left:698.6999999999999px;top:793.34px;font-size:12px;line-height:12px;font-weight:normal;color:#1a1a1a;letter-spacing:-0.15px;">14:00</div>
<div class="t" style="left:827.6999999999999px;top:793.34px;font-size:12px;line-height:12px;font-weight:normal;color:#1a1a1a;letter-spacing:-0.15px;">Yes</div>
<div class="t" style="left:956.9px;top:793.34px;font-size:12px;line-height:12px;font-weight:normal;color:#1a1a1a;letter-spacing:-0.15px;">0</div>
<div class="t" style="left:1086.1000000000001px;top:793.34px;font-size:12px;line-height:12px;font-weight:normal;color:#1a1a1a;letter-spacing:-0.15px;">0</div>
<div class="t" style="left:1215.4px;top:793.34px;font-size:12px;line-height:12px;font-weight:normal;color:#1a1a1a;letter-spacing:-0.15px;">0</div>
<div class="t" style="left:1344.1000000000001px;top:793.34px;font-size:12px;line-height:12px;font-weight:normal;color:#1a1a1a;letter-spacing:-0.15px;">KG</div>
<div style="position:absolute;left:244px;top:560.5px;width:1227px;height:1.6px;background:#2a2e33;"></div>
<div style="position:absolute;left:244px;top:578.5px;width:1227px;height:1.6px;background:#2a2e33;"></div>
<div style="position:absolute;left:244px;top:597.5px;width:1227px;height:1.6px;background:#2a2e33;"></div>
<div style="position:absolute;left:244px;top:616.5px;width:1227px;height:1.6px;background:#2a2e33;"></div>
<div style="position:absolute;left:244px;top:635.5px;width:1227px;height:1.6px;background:#1b2b40;"></div>
<div style="position:absolute;left:244px;top:654.1px;width:1227px;height:1.6px;background:#1b2b40;"></div>
<div style="position:absolute;left:244px;top:673.5px;width:1227px;height:1.6px;background:#2a2e33;"></div>
<div style="position:absolute;left:244px;top:692.5px;width:1227px;height:1.6px;background:#2a2e33;"></div>
<div style="position:absolute;left:244px;top:711.5px;width:1227px;height:1.6px;background:#2a2e33;"></div>
<div style="position:absolute;left:244px;top:730.5px;width:1227px;height:1.6px;background:#2a2e33;"></div>
<div style="position:absolute;left:244px;top:749.5px;width:1227px;height:1.6px;background:#2a2e33;"></div>
<div style="position:absolute;left:244px;top:768.5px;width:1227px;height:1.6px;background:#2a2e33;"></div>
<div style="position:absolute;left:244px;top:787.5px;width:1227px;height:1.6px;background:#2a2e33;"></div>
<div style="position:absolute;left:244px;top:806.5px;width:1227px;height:1.6px;background:#2a2e33;"></div>
<div style="position:absolute;left:308.09999999999997px;top:543px;width:1.4px;height:264.5px;background:#23272b;"></div>
<div style="position:absolute;left:436.9px;top:543px;width:1.4px;height:264.5px;background:#23272b;"></div>
<div style="position:absolute;left:565.6999999999999px;top:543px;width:1.4px;height:264.5px;background:#23272b;"></div>
<div style="position:absolute;left:694.6999999999999px;top:543px;width:1.4px;height:264.5px;background:#23272b;"></div>
<div style="position:absolute;left:823.6999999999999px;top:543px;width:1.4px;height:264.5px;background:#23272b;"></div>
<div style="position:absolute;left:952.9px;top:543px;width:1.4px;height:264.5px;background:#23272b;"></div>
<div style="position:absolute;left:1082.1000000000001px;top:543px;width:1.4px;height:264.5px;background:#23272b;"></div>
<div style="position:absolute;left:1211.4px;top:543px;width:1.4px;height:264.5px;background:#23272b;"></div>
<div style="position:absolute;left:1340.1000000000001px;top:543px;width:1.4px;height:264.5px;background:#23272b;"></div>
<div style="position:absolute;left:1469.9px;top:543px;width:1.8px;height:264.5px;background:#23272b;"></div>
<div style="position:absolute;left:244.6px;top:637px;width:64.1px;height:18px;border:1px solid #1d6cc0;box-sizing:border-box;"></div>
<div style="position:absolute;left:309.9px;top:637px;width:127.60000000000002px;height:18px;border:1px solid #1d6cc0;box-sizing:border-box;"></div>
<div style="position:absolute;left:438.7px;top:637px;width:127.59999999999997px;height:18px;border:1px solid #1d6cc0;box-sizing:border-box;"></div>
<div style="position:absolute;left:567.5px;top:637px;width:127.79999999999995px;height:18px;border:1px solid #1d6cc0;box-sizing:border-box;"></div>
<div style="position:absolute;left:696.5px;top:637px;width:127.79999999999995px;height:18px;border:1px solid #1d6cc0;box-sizing:border-box;"></div>
<div style="position:absolute;left:825.5px;top:637px;width:128.0px;height:18px;border:1px solid #1d6cc0;box-sizing:border-box;"></div>
<div style="position:absolute;left:954.7px;top:637px;width:128.0px;height:18px;border:1px solid #1d6cc0;box-sizing:border-box;"></div>
<div style="position:absolute;left:1083.9px;top:637px;width:128.0999999999999px;height:18px;border:1px solid #1d6cc0;box-sizing:border-box;"></div>
<div style="position:absolute;left:1213.2px;top:637px;width:127.5px;height:18px;border:1px solid #1d6cc0;box-sizing:border-box;"></div>
<div style="position:absolute;left:1341.9px;top:637px;width:128.0999999999999px;height:18px;border:1px solid #1d6cc0;box-sizing:border-box;"></div>
<div style="position:absolute;left:1203px;top:628px;width:106px;height:32px;border:5px solid #ff4512;box-sizing:border-box;"></div>
</body></html>
